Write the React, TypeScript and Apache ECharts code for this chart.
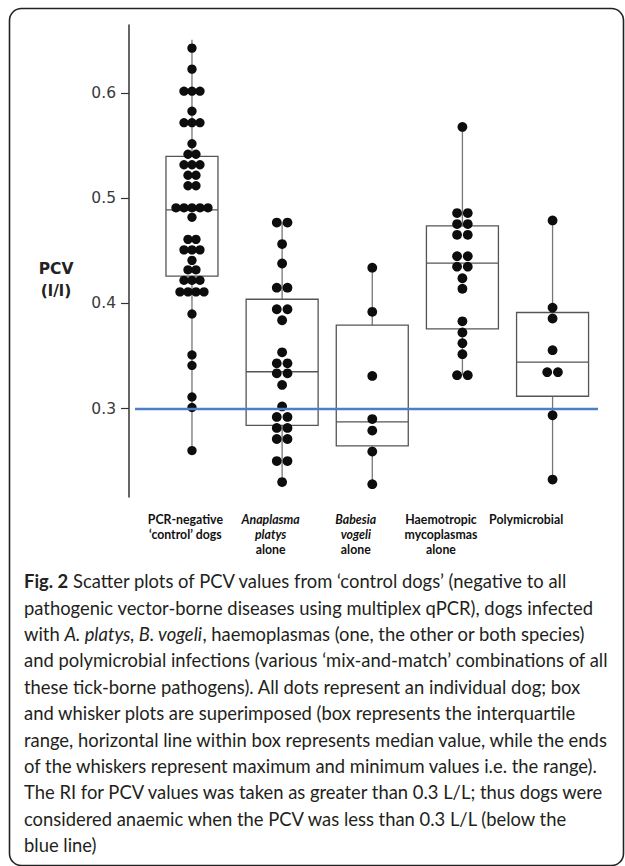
import React, { useEffect, useRef } from "react";
import * as echarts from "echarts";

// ---------- data ----------
const categories = [
  "PCR-negative\n‘control’ dogs",
  "Anaplasma\nplatys\nalone",
  "Babesia\nvogeli\nalone",
  "Haemotropic\nmycoplasmas\nalone",
  "Polymicrobial",
];
const italicWords = ["Anaplasma", "platys", "Babesia", "vogeli"];

const controlDogs = [
  0.643, 0.623, 0.602, 0.602, 0.602, 0.583, 0.572, 0.572, 0.572, 0.552,
  0.542, 0.542, 0.532, 0.532, 0.532, 0.522, 0.522, 0.512, 0.512,
  0.491, 0.491, 0.491, 0.491, 0.491, 0.482, 0.461, 0.461, 0.451, 0.451, 0.451,
  0.441, 0.432, 0.432, 0.422, 0.422, 0.422, 0.411, 0.411, 0.411, 0.411,
  0.39, 0.351, 0.341, 0.311, 0.301, 0.26,
];
const anaplasmaPlatys = [
  0.477, 0.477, 0.4565, 0.438, 0.415, 0.415, 0.3945, 0.3945, 0.384, 0.3535,
  0.343, 0.343, 0.3335, 0.3335, 0.3225, 0.302, 0.292, 0.292, 0.2815, 0.2815,
  0.271, 0.271, 0.25, 0.25, 0.23,
];
const babesiaVogeli = [0.434, 0.392, 0.331, 0.29, 0.279, 0.259, 0.228];
const haemotropicMycoplasmas = [
  0.568, 0.486, 0.486, 0.4755, 0.4755, 0.4653, 0.4653, 0.445, 0.445, 0.435, 0.435,
  0.424, 0.414, 0.383, 0.3724, 0.3622, 0.3517, 0.3317, 0.3317,
];
const polymicrobial = [0.479, 0.396, 0.3857, 0.3555, 0.3346, 0.3346, 0.2936, 0.2324];
const groups = [controlDogs, anaplasmaPlatys, babesiaVogeli, haemotropicMycoplasmas, polymicrobial];

// [min, Q1, median, Q3, max]
const boxStats = [
  [0.26, 0.426, 0.489, 0.54, 0.651],
  [0.23, 0.284, 0.335, 0.404, 0.477],
  [0.228, 0.2644, 0.2873, 0.3793, 0.434],
  [0.3317, 0.3758, 0.4384, 0.4739, 0.5682],
  [0.2324, 0.3117, 0.3441, 0.3914, 0.479],
];

const yTicks = [0.3, 0.4, 0.5, 0.6];
const referenceLine = 0.296;

const captionLines = [
  "{b|Fig. 2} Scatter plots of PCV values from ‘control dogs’ (negative to all",
  "pathogenic vector-borne diseases using multiplex qPCR), dogs infected",
  "with {i|A. platys, B. vogeli}, haemoplasmas (one, the other or both species)",
  "and polymicrobial infections (various ‘mix-and-match’ combinations of all",
  "these tick-borne pathogens). All dots represent an individual dog; box",
  "and whisker plots are superimposed (box represents the interquartile",
  "range, horizontal line within box represents median value, while the ends",
  "of the whiskers represent maximum and minimum values i.e. the range).",
  "The RI for PCV values was taken as greater than 0.3 L/L; thus dogs were",
  "considered anaemic when the PCV was less than 0.3 L/L (below the",
  "blue line)",
];

// ---------- layout ----------
const GRID = { left: 135, top: 25, width: 463, height: 472 };
const X_MIN = -0.632;
const X_MAX = 4.504;
const PX_PER_UNIT = GRID.width / (X_MAX - X_MIN);
const boxWidthPx = [52, 72, 72, 72, 72];
const dotSpacingPx = [8, 10.7, 10.7, 10.7, 10.7];
const dotSizePx = [9.3, 9.8, 9.8, 9.8, 9.8];
const CAPTION_SIZE = 18.4;
const CAPTION_LH = 26.4;

function buildDots() {
  const out: any[] = [];
  groups.forEach((vals, gi) => {
    const counts = new Map<number, number>();
    vals.forEach((v) => counts.set(v, (counts.get(v) || 0) + 1));
    const seen = new Map<number, number>();
    vals.forEach((v) => {
      const n = counts.get(v) as number;
      const k = seen.get(v) || 0;
      seen.set(v, k + 1);
      const off = ((k - (n - 1) / 2) * dotSpacingPx[gi]) / PX_PER_UNIT;
      out.push({ value: [gi + off, v], symbolSize: dotSizePx[gi] });
    });
  });
  return out;
}

export default function App() {
  const ref = useRef<HTMLDivElement>(null);
  useEffect(() => {
    if (!ref.current) return;
    const chart = echarts.init(ref.current, null, { renderer: "svg" });
    const labelFont = "Lato";
    chart.setOption({
      animation: false,
      backgroundColor: "#ffffff",
      title: [
        {
          text: "PCV\n(l/l)",
          left: 51,
          top: 253,
          textAlign: "center",
          textStyle: {
            fontFamily: "DejaVu Sans",
            fontWeight: "bold",
            fontSize: 15.5,
            lineHeight: 22,
            color: "#222",
          },
        },
        {
          text: captionLines.join("\n"),
          left: 19,
          top: 563,
          textStyle: {
            fontFamily: "Lato",
            fontSize: CAPTION_SIZE,
            lineHeight: CAPTION_LH,
            fontWeight: "normal",
            color: "#231f20",
            rich: {
              b: { fontFamily: "Lato", fontSize: CAPTION_SIZE, lineHeight: CAPTION_LH, fontWeight: "bold", color: "#231f20" },
              i: { fontFamily: "Lato", fontSize: CAPTION_SIZE, lineHeight: CAPTION_LH, fontStyle: "italic", color: "#231f20" },
            },
          },
        },
      ],
      graphic: [
        {
          type: "rect",
          shape: { x: 9.5, y: 8.5, width: 614, height: 857, r: 12 },
          style: { fill: "none", stroke: "#222", lineWidth: 1.6 },
          silent: true,
        },
      ],
      grid: [
        { left: GRID.left, top: GRID.top, width: GRID.width, height: GRID.height },
        { left: 142.8, top: 500, width: 426, height: 4 },
      ],
      xAxis: [
        { type: "value", gridIndex: 0, min: X_MIN, max: X_MAX, show: false },
        {
          type: "category",
          gridIndex: 1,
          data: categories,
          axisLine: { show: false },
          axisTick: { show: false },
          axisLabel: {
            interval: 0,
            margin: 8,
            formatter: (val: string) =>
              val
                .split("\n")
                .map((line) => (italicWords.includes(line) ? `{i|${line}}` : `{b|${line}}`))
                .join("\n"),
            rich: {
              b: { fontFamily: labelFont, fontWeight: "bold", fontSize: 12.3, lineHeight: 15, color: "#111" },
              i: { fontFamily: labelFont, fontWeight: "bold", fontStyle: "italic", fontSize: 12.3, lineHeight: 15, color: "#111" },
            },
          },
        },
      ],
      yAxis: [
        {
          type: "value",
          gridIndex: 0,
          min: 0.2158,
          max: 0.665,
          offset: 6,
          splitLine: { show: false },
          axisLine: { show: true, onZero: false, lineStyle: { color: "#333", width: 1.5 } },
          axisTick: { show: true, customValues: yTicks, length: 8, lineStyle: { color: "#333", width: 1.2 } },
          axisLabel: {
            customValues: yTicks,
            formatter: (v: number) => v.toFixed(1),
            margin: 13,
            fontFamily: "DejaVu Sans",
            fontSize: 15.5,
            color: "#3a3a3a",
          },
        },
        { type: "value", gridIndex: 1, show: false },
      ],
      series: [
        {
          type: "custom",
          xAxisIndex: 0,
          yAxisIndex: 0,
          z: 1,
          data: boxStats.map((s, i) => [i, ...s]),
          encode: { x: 0, y: [1, 2, 3, 4, 5] },
          renderItem: (params: any, api: any) => {
            const i = api.value(0);
            const lo = api.coord([i, api.value(1)]);
            const q1 = api.coord([i, api.value(2)]);
            const md = api.coord([i, api.value(3)]);
            const q3 = api.coord([i, api.value(4)]);
            const hi = api.coord([i, api.value(5)]);
            const cx = md[0];
            const w = boxWidthPx[i];
            const boxStyle = { stroke: "#555", lineWidth: 1.3, fill: "none" };
            const whiskerStyle = { stroke: "#777", lineWidth: 1.3 };
            return {
              type: "group",
              children: [
                { type: "line", shape: { x1: cx, y1: hi[1], x2: cx, y2: q3[1] }, style: whiskerStyle },
                { type: "line", shape: { x1: cx, y1: q1[1], x2: cx, y2: lo[1] }, style: whiskerStyle },
                { type: "rect", shape: { x: cx - w / 2, y: q3[1], width: w, height: q1[1] - q3[1] }, style: boxStyle },
                { type: "line", shape: { x1: cx - w / 2, y1: md[1], x2: cx + w / 2, y2: md[1] }, style: boxStyle },
              ],
            };
          },
          markLine: {
            silent: true,
            symbol: "none",
            label: { show: false },
            lineStyle: { color: "#4a80c4", width: 2.4, type: "solid" },
            data: [{ yAxis: referenceLine }],
          },
        },
        {
          type: "scatter",
          xAxisIndex: 0,
          yAxisIndex: 0,
          z: 3,
          symbol: "circle",
          itemStyle: { color: "#0d0d0d", opacity: 1 },
          data: buildDots(),
        },
        { type: "scatter", xAxisIndex: 1, yAxisIndex: 1, data: [] },
      ],
    });
    return () => chart.dispose();
  }, []);
  return (
    <div
      ref={ref}
      style={{ position: "absolute", left: 0, top: 0, width: 625, height: 866, background: "#fff" }}
    />
  );
}
